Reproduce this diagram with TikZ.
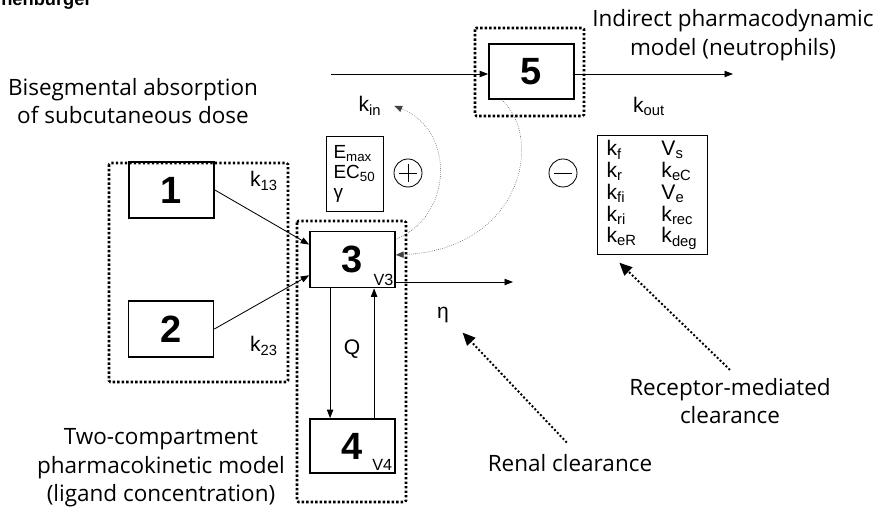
\documentclass[tikz,border=0pt]{standalone}
\usepackage{fontspec}
\setmainfont{Liberation Sans}
\newfontfamily\handfont{Open Sans}
\usetikzlibrary{arrows.meta,positioning,calc}

\tikzset{
  comp/.style={draw, line width=1.2pt, minimum width=2.125cm, minimum height=1.4cm, inner sep=0pt, font=\fontsize{27}{27}\selectfont\bfseries},
  vol/.style={anchor=south east, inner sep=1.5pt, font=\fontsize{11.5}{12}\selectfont},
  group/.style={line width=1.8pt, dash pattern=on 1.7pt off 1.5pt, rounded corners=1pt},
  flow/.style={-{Triangle[length=6pt,width=4.5pt]}, semithick},
  effect/.style={-{Triangle[length=5.5pt,width=4.5pt]}, black!75, densely dotted, line width=0.4pt},
  clear/.style={-{Triangle[length=9pt,width=8pt]}, line width=1.4pt, dash pattern=on 1.4pt off 1.5pt},
  rate/.style={font=\fontsize{15}{17}\selectfont},
  caption/.style={font=\handfont\fontsize{16}{20.3}\selectfont, align=center},
}

\begin{document}
\begin{tikzpicture}[x=0.025cm, y=-0.025cm]
  \useasboundingbox (0,0) rectangle (877,510);

  % Page header (cut off)
  \node[font=\bfseries\fontsize{13}{13}\selectfont, anchor=base west, inner sep=0pt] (header) at (1,5.5) {nenburger};

  % Absorption compartments
  \draw[group] (109,163) rectangle (288,382);
  \node[comp] (b1) at (171.5,190) {1};
  \node[comp] (b2) at (171,329) {2};
  \node[caption] (bisegm) at (133,101) {Bisegmental absorption\\of subcutaneous dose};

  % Two-compartment PK model
  \draw[group] (297,221) rectangle (406,502);
  \node[comp] (b3) at (352.5,259.5) {3};
  \node[vol] (v3) at (b3.south east) {V3};
  \node[comp, minimum height=1.35cm] (b4) at (352.5,446) {4};
  \node[vol, inner sep=2.5pt] (v4) at (b4.south east) {V4};
  \node[caption] (pkmodel) at (161,468) {Two-compartment\\pharmacokinetic model\\(ligand concentration)};

  % Indirect PD model
  \draw[group] (475,28) rectangle (584,116);
  \node[comp, minimum height=1.375cm] (b5) at (531.5,71.5) {5};
  \node[caption] (pdmodel) at (733,35) {Indirect pharmacodynamic\\model (neutrophils)};

  % Rate constants
  \node[rate] (k13) at (264,181) {k\textsubscript{13}};
  \node[rate] (k23) at (264,346) {k\textsubscript{23}};
  \node[rate] (q) at (352,349) {Q};
  \node[rate] (kin) at (370,106) {k\textsubscript{in}};
  \node[rate] (kout) at (649,106) {k\textsubscript{out}};
  \node[rate] (eta) at (443,315) {η};

  % Parameter boxes
  \node[draw, semithick, minimum width=1.425cm, minimum height=1.875cm, align=left,
        font=\fontsize{13.5}{14.2}\selectfont] (emax) at (354.5,173.5)
        {E\textsubscript{max}\\EC\textsubscript{50}\\γ};
  \node[draw, semithick, minimum width=2.75cm, minimum height=2.95cm,
        font=\fontsize{15}{15.4}\selectfont] (recp) at (652,195)
        {\begin{tabular}{@{}p{39pt}@{}l@{}}
          k\textsubscript{f}  & V\textsubscript{s}\\
          k\textsubscript{r}  & k\textsubscript{eC}\\
          k\textsubscript{fi} & V\textsubscript{e}\\
          k\textsubscript{ri} & k\textsubscript{rec}\\
          k\textsubscript{eR} & k\textsubscript{deg}
        \end{tabular}};

  % Stimulation / inhibition signs
  \node[draw, circle, semithick, minimum size=0.7cm] (plus) at (408,173) {};
  \draw[semithick] ([xshift=-0.22cm]plus.center) -- ([xshift=0.22cm]plus.center);
  \draw[semithick] ([yshift=-0.22cm]plus.center) -- ([yshift=0.22cm]plus.center);
  \node[draw, circle, semithick, minimum size=0.7cm] (minus) at (563,173) {};
  \draw[semithick] ([xshift=-0.22cm]minus.center) -- ([xshift=0.22cm]minus.center);

  % Mass transfer
  \draw[flow] (b1.east) -- (b3.161);
  \draw[flow] (b2.east) -- (b3.200);
  \draw[flow] ([xshift=-0.56cm]b3.south) -- ([xshift=-0.56cm]b4.north);
  \draw[flow] ([xshift=0.54cm]b4.north) -- ([xshift=0.54cm]b3.south);
  \coordinate (urine) at (513,282);
  \draw[flow] (b3.east |- urine) -- (urine);
  \coordinate (source) at (331,74);
  \coordinate (sink) at (733,74);
  \draw[flow] (source) -- (source -| b5.west);
  \draw[flow] (sink -| b5.east) -- (sink);

  % Drug effect and receptor binding
  \draw[effect] (b3.25) .. controls (454,215) and (455,130) .. ([xshift=0.2cm]kin.east);
  \draw[effect] ([xshift=-0.74cm]b5.south) .. controls (545,140) and (520,250) .. (b3.6);

  % Clearance pathways
  \node[caption] (renal) at (570,463) {Renal clearance};
  \node[caption] (rmc) at (730,401) {Receptor-mediated\\clearance};
  \draw[clear] ([shift={(-0.08cm,0.17cm)}]renal.north) -- ([shift={(0.22cm,-0.12cm)}]eta.south east);
  \draw[clear] ([yshift=0.08cm]rmc.north) -- ([shift={(0.57cm,-0.2cm)}]recp.south west);
\end{tikzpicture}
\end{document}
